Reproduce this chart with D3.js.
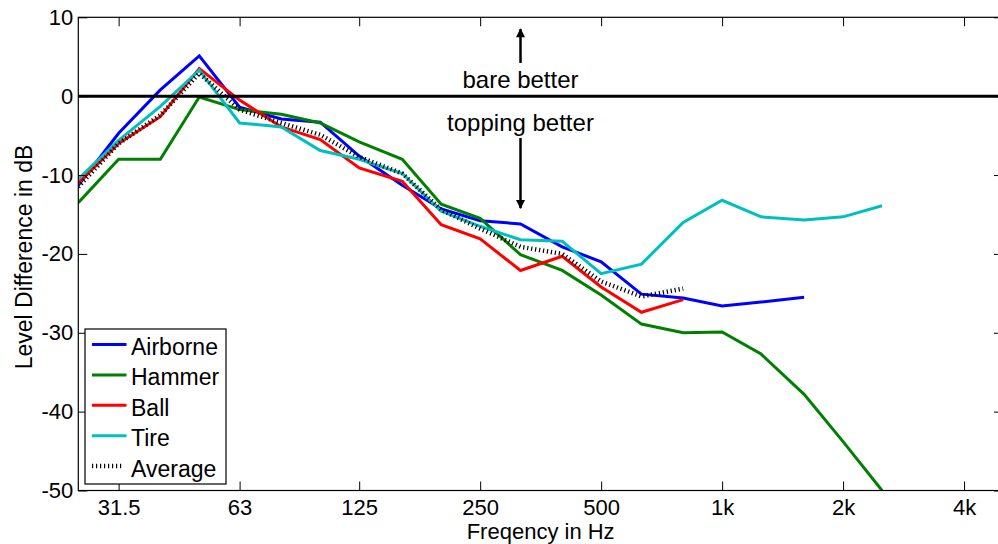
<!DOCTYPE html>
<html>
<head>
<meta charset="utf-8">
<script src="https://cdn.jsdelivr.net/npm/d3@7/dist/d3.min.js"></script>
<style>
  html, body { margin: 0; padding: 0; background: #fff; }
  svg { display: block; overflow: hidden; }
  text { font-family: "Liberation Sans", Arial, Helvetica, sans-serif; fill: #000; }
</style>
</head>
<body>
<svg id="chart" width="998" height="544"></svg>
<script>
// ---- data ----
const bands = [25, 31.5, 40, 50, 63, 80, 100, 125, 160, 200, 250, 315, 400, 500, 630, 800, 1000, 1250, 1600, 2000, 2500];
const airborne = [-11.3, -4.7, 0.8, 5.1, -1.4, -2.9, -3.3, -7.6, -11.3, -14.3, -15.8, -16.2, -19.1, -21.0, -25.1, -25.6, -26.6, -26.1, -25.5];
const hammer   = [-13.5, -8.0, -8.0, -0.1, -1.7, -2.3, -3.4, -5.8, -8.0, -13.7, -15.5, -20.1, -22.1, -25.2, -28.9, -30.0, -29.9, -32.7, -37.8, -43.8, -50.0];
const ball     = [-11.0, -6.0, -2.6, 3.5, -0.5, -3.9, -5.5, -9.1, -10.8, -16.3, -18.1, -22.1, -20.3, -24.2, -27.4, -25.8];
const tire     = [-10.5, -5.6, -1.3, 3.3, -3.4, -3.9, -6.9, -8.0, -9.8, -14.6, -16.5, -18.2, -18.4, -22.5, -21.3, -16.0, -13.2, -15.3, -15.7, -15.3, -13.9];
const average  = [-11.5, -6.0, -2.4, 2.9, -1.7, -3.4, -4.9, -7.7, -9.8, -14.4, -16.8, -19.1, -20.0, -23.5, -25.4, -24.4];
const seriesNames = ["Airborne", "Hammer", "Ball", "Tire", "Average"];
const xTickValues = [31.5, 63, 125, 250, 500, 1000, 2000, 4000];
const xTickLabels = ["31.5", "63", "125", "250", "500", "1k", "2k", "4k"];
const yTickValues = [10, 0, -10, -20, -30, -40, -50];
const xDomain = [25, 5000];
const yDomain = [-50, 10];

// ---- layout ----
const L = 78.3, R = 1003, T = 17.3, B = 490.5;
const svg = d3.select("#chart");
const x = d3.scaleLog().domain(xDomain).range([L, R]);
const y = d3.scaleLinear().domain(yDomain).range([B, T]);

const styles = [
  { name: "Airborne", data: airborne, color: "#0000ff", dash: null, width: 3 },
  { name: "Hammer",   data: hammer,   color: "#008000", dash: null, width: 3 },
  { name: "Ball",     data: ball,     color: "#ff0000", dash: null, width: 3 },
  { name: "Tire",     data: tire,     color: "#00bfbf", dash: null, width: 3 },
  { name: "Average",  data: average,  color: "#000000", dash: "1.2,2.8", width: 4.5 }
];

svg.append("defs").append("clipPath").attr("id", "clip")
  .append("rect").attr("x", L).attr("y", T).attr("width", R - L).attr("height", B - T);

const line = d3.line().x(d => x(d[0])).y(d => y(d[1]));
const plot = svg.append("g").attr("clip-path", "url(#clip)");

styles.slice(0, 4).forEach(s => {
  plot.append("path")
    .datum(s.data.map((v, i) => [bands[i], v]))
    .attr("d", line).attr("fill", "none")
    .attr("stroke", s.color).attr("stroke-width", s.width)
    .attr("stroke-linejoin", "miter");
});

// zero line
plot.append("line").attr("x1", L).attr("x2", R).attr("y1", y(0)).attr("y2", y(0))
  .attr("stroke", "#000").attr("stroke-width", 3);

// average
const av = styles[4];
plot.append("path")
  .datum(av.data.map((v, i) => [bands[i], v]))
  .attr("d", line).attr("fill", "none")
  .attr("stroke", av.color).attr("stroke-width", av.width)
  .attr("stroke-dasharray", av.dash);

// ---- axes ----
const tickLen = 9;
svg.append("rect").attr("x", L).attr("y", T).attr("width", R - L).attr("height", B - T)
  .attr("fill", "none").attr("stroke", "#000").attr("stroke-width", 1.2);

const xAxisB = d3.axisBottom(x).tickValues(xTickValues).tickFormat((d, i) => xTickLabels[i])
  .tickSizeInner(-tickLen).tickSizeOuter(0).tickPadding(8.7);
const gxb = svg.append("g").attr("transform", `translate(0,${B})`).call(xAxisB);
gxb.select(".domain").remove();
gxb.selectAll("text").attr("font-size", 22).attr("font-family", "Liberation Sans, Arial, sans-serif").attr("fill", "#000");
gxb.selectAll("line").attr("stroke", "#000");

const xAxisT = d3.axisTop(x).tickValues(xTickValues).tickFormat("").tickSizeInner(-tickLen).tickSizeOuter(0);
const gxt = svg.append("g").attr("transform", `translate(0,${T})`).call(xAxisT);
gxt.select(".domain").remove();
gxt.selectAll("line").attr("stroke", "#000");

const yAxisL = d3.axisLeft(y).tickValues(yTickValues).tickFormat(d3.format("d"))
  .tickSizeInner(-tickLen).tickSizeOuter(0).tickPadding(5);
const gyl = svg.append("g").attr("transform", `translate(${L},0)`).call(yAxisL);
gyl.select(".domain").remove();
gyl.selectAll("text").attr("font-size", 22).attr("font-family", "Liberation Sans, Arial, sans-serif").attr("fill", "#000")
  .text(d => d < 0 ? "-" + Math.abs(d) : String(d));
gyl.selectAll("line").attr("stroke", "#000");

const yAxisR = d3.axisRight(y).tickValues(yTickValues).tickFormat("").tickSizeInner(-tickLen).tickSizeOuter(0);
const gyr = svg.append("g").attr("transform", `translate(${R},0)`).call(yAxisR);
gyr.select(".domain").remove();
gyr.selectAll("line").attr("stroke", "#000");

// axis labels
svg.append("text").attr("x", (L + R) / 2).attr("y", 539.2).attr("text-anchor", "middle")
  .attr("font-size", 22).text("Freqency in Hz");
svg.append("text").attr("transform", `translate(31.5,257) rotate(-90)`).attr("text-anchor", "middle")
  .attr("font-size", 23).text("Level Difference in dB");

// ---- annotations ----
const annF = 315;
const ax0 = x(annF);
svg.append("defs").append("marker").attr("id", "arrow").attr("viewBox", "0 0 10 10")
  .attr("refX", 9).attr("refY", 5).attr("markerWidth", 11).attr("markerHeight", 9)
  .attr("markerUnits", "userSpaceOnUse").attr("orient", "auto")
  .append("path").attr("d", "M0,0 L10,5 L0,10 Z").attr("fill", "#000");
svg.append("line").attr("x1", ax0).attr("x2", ax0).attr("y1", y(4.2)).attr("y2", y(8.5))
  .attr("stroke", "#000").attr("stroke-width", 2.5).attr("marker-end", "url(#arrow)");
svg.append("line").attr("x1", ax0).attr("x2", ax0).attr("y1", y(-5.3)).attr("y2", y(-14.2))
  .attr("stroke", "#000").attr("stroke-width", 2.5).attr("marker-end", "url(#arrow)");
svg.append("text").attr("x", ax0).attr("y", 87.5).attr("text-anchor", "middle")
  .attr("font-size", 24).text("bare better");
svg.append("text").attr("x", ax0).attr("y", 130.5).attr("text-anchor", "middle")
  .attr("font-size", 24).text("topping better");

// ---- legend ----
const lg = svg.append("g");
lg.append("rect").attr("x", 85).attr("y", 329).attr("width", 141).attr("height", 155)
  .attr("fill", "#fff").attr("stroke", "#000").attr("stroke-width", 1.2);
styles.forEach((s, i) => {
  const ly = 344.5 + i * 30.4;
  lg.append("line").attr("x1", 92).attr("x2", s.dash ? 124 : 126.5).attr("y1", ly).attr("y2", ly)
    .attr("stroke", s.color).attr("stroke-width", s.width)
    .attr("stroke-dasharray", s.dash);
  lg.append("text").attr("x", 131).attr("y", ly + 10.5).attr("font-size", 23).text(seriesNames[i]);
});
</script>
</body>
</html>
